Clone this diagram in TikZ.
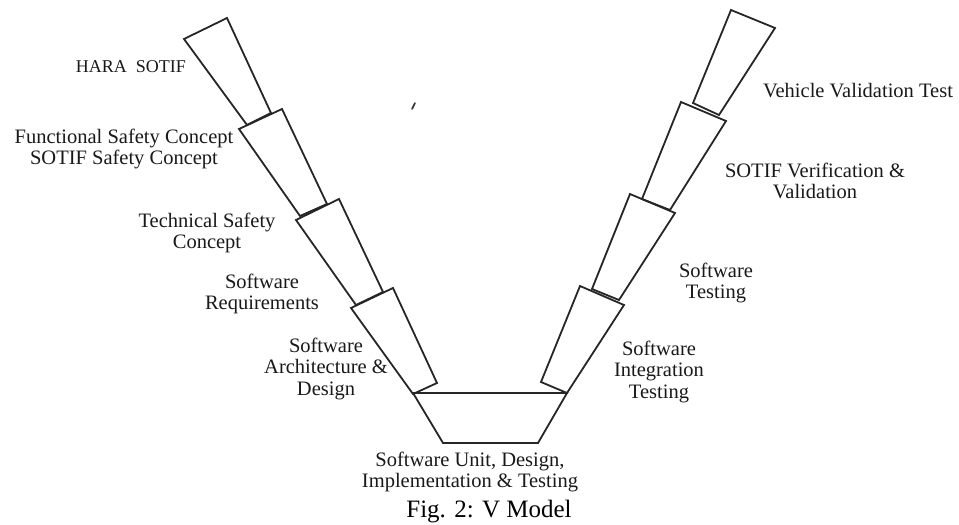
\documentclass[tikz,border=0pt]{standalone}
\usepackage{fontspec}
\setmainfont{Liberation Serif}
\begin{document}
\begin{tikzpicture}[x=1pt,y=-1pt,
  blk/.style={draw=black!85,line width=1.8pt,line join=miter},
  lbl/.style={anchor=base,align=center,inner sep=0pt,font=\fontsize{20.5}{21.5}\selectfont,text=black!90},
  captext/.style={anchor=base,inner sep=0pt,font=\fontsize{25}{28}\selectfont}]
\useasboundingbox (0,0) rectangle (959,525);
% left branch
\draw[blk] (184,39) -- (227,18) -- (271,113) -- (247,125) -- cycle;
\draw[blk] (239,129) -- (282,109) -- (327,204) -- (300,216) -- cycle;
\draw[blk] (296,220) -- (339,199) -- (383,292) -- (356,305) -- cycle;
\draw[blk] (351,308) -- (393,288) -- (437,383) -- (413,394) -- cycle;
% bottom
\draw[blk] (413,393) -- (567,393) -- (538,443) -- (443,443) -- cycle;
% right branch
\draw[blk] (580,286) -- (624,305) -- (567,393) -- (541,382) -- cycle;
\draw[blk] (630,194) -- (675,213) -- (619,300) -- (592,289) -- cycle;
\draw[blk] (681,102) -- (726,121) -- (670,210) -- (642,199) -- cycle;
\draw[blk] (731,10) -- (775,28) -- (719,115) -- (693,103) -- cycle;
% stray mark
\draw[line width=1.6pt,line cap=round,black!80] (412,109) -- (415,103);
% labels (anchor = baseline of last line)
\node[lbl,font=\fontsize{18}{20}\selectfont] (hara) at (131,72) {HARA\ \ SOTIF};
\node[lbl] (fsc) at (124,164.5) {Functional Safety Concept\\SOTIF Safety Concept};
\node[lbl] (tsc) at (207,248.5) {Technical Safety\\Concept};
\node[lbl] (swr) at (262,309.5) {Software\\Requirements};
\node[lbl] (swa) at (326,395) {Software\\Architecture \&\\Design};
\node[lbl] (swu) at (470,487.5) {Software Unit, Design,\\Implementation \& Testing};
\node[lbl] (swi) at (659,398) {Software\\Integration\\Testing};
\node[lbl] (swt) at (716,298.5) {Software\\Testing};
\node[lbl] (svv) at (815,198.5) {SOTIF Verification \&\\Validation};
\node[lbl] (vvt) at (858,97) {Vehicle Validation Test};
\node[captext] (fig) at (489,517) {Fig. 2: V Model};
\end{tikzpicture}
\end{document}
